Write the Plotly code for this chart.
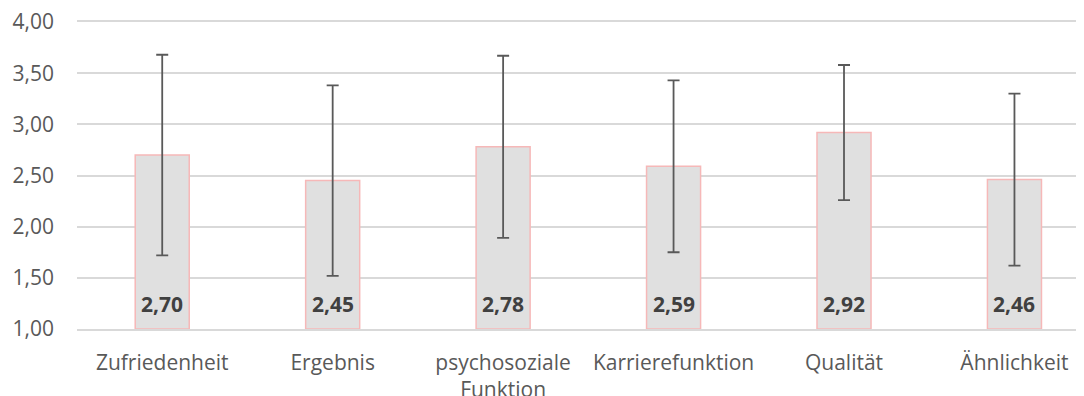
import plotly.graph_objects as go

categories = ["Zufriedenheit", "Ergebnis", "psychosoziale<br>Funktion",
              "Karrierefunktion", "Qualität", "Ähnlichkeit"]
means = [2.70, 2.45, 2.78, 2.59, 2.92, 2.46]
sds = [0.98, 0.93, 0.89, 0.84, 0.66, 0.84]
y_ticks = [1.0, 1.5, 2.0, 2.5, 3.0, 3.5, 4.0]

x_pos = list(range(len(categories)))
y_base = 1.0

fig = go.Figure()
fig.add_trace(go.Bar(
    x=x_pos,
    y=[m - y_base for m in means],
    base=y_base,
    width=0.317,
    marker=dict(color="#e0e0e0", line=dict(color="#f6b8b8", width=1.5)),
    error_y=dict(type="data", array=sds, symmetric=True,
                 color="#595959", thickness=1.8, width=6),
    hoverinfo="skip",
))

for xi, m in zip(x_pos, means):
    fig.add_annotation(
        x=xi, y=y_base, xref="x", yref="y",
        text="<b>" + f"{m:.2f}".replace(".", ",") + "</b>",
        showarrow=False, yanchor="bottom", yshift=9,
        font=dict(family="Open Sans", size=21, color="#404040"),
    )

fig.update_layout(
    width=1076, height=388,
    margin=dict(l=69, r=0, t=14, b=67),
    paper_bgcolor="white", plot_bgcolor="white",
    separators=",.",
    showlegend=False,
    font=dict(family="Open Sans", size=21, color="#595959"),
)
fig.update_xaxes(
    range=[-0.5, 5.408],
    tickmode="array", tickvals=x_pos, ticktext=categories,
    showgrid=False, zeroline=False,
    showline=True, mirror=True, linecolor="#d9d9d9", linewidth=1.5,
    ticks="", ticklabelstandoff=14, automargin=False,
    ticklabeloverflow="allow",
    tickfont=dict(family="Open Sans", size=21, color="#595959"),
)
fig.update_yaxes(
    range=[1, 4],
    tickmode="array", tickvals=y_ticks,
    tickformat=".2f",
    showgrid=True, gridcolor="#d9d9d9", gridwidth=1.5,
    zeroline=False, showline=False,
    ticks="", ticklabelstandoff=22, automargin=False,
    ticklabeloverflow="allow",
    tickfont=dict(family="Open Sans", size=21, color="#595959"),
)

fig.write_html("out.html")
